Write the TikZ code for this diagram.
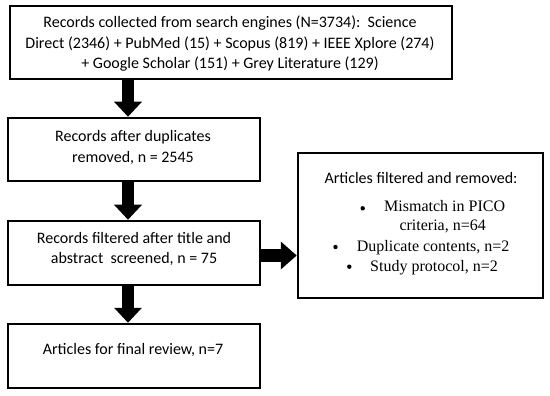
\documentclass[tikz,border=0pt]{standalone}
\usepackage{fontspec}
\setmainfont{Carlito}
\newfontfamily\serifb{Liberation Serif}
\usetikzlibrary{arrows.meta}
\begin{document}
\begin{tikzpicture}[x=1pt,y=-1pt,
  box/.style={draw=black,line width=2.5pt,rectangle,inner sep=0pt},
  txt/.style={font=\fontsize{16}{20.5}\selectfont,align=center,inner sep=0pt},
  btxt/.style={font=\serifb\fontsize{16}{20}\selectfont,inner sep=0pt,anchor=base west},
  dot/.style={circle,fill=black,inner sep=0pt,minimum size=4.4pt},
  bigarrow/.style={line width=12pt,-{Triangle[length=15pt,width=27pt]}},
  sidearrow/.style={line width=13pt,-{Triangle[length=16pt,width=27pt]}}]
\useasboundingbox (0,0) rectangle (550,396);
% boxes
\node[box,minimum width=442pt,minimum height=73pt] (top) at (231,42.5) {};
\node[box,minimum width=252pt,minimum height=63pt] (b2) at (134,149.5) {};
\node[box,minimum width=252pt,minimum height=64pt] (b3) at (134,253) {};
\node[box,minimum width=252pt,minimum height=64pt] (b4) at (134,356) {};
\node[box,minimum width=245pt,minimum height=145pt] (rb) at (420.5,225.5) {};
% texts
\node[txt] (ttop) at (230,44) {Records collected from search engines (N=3734):\ \ Science\\Direct (2346) + PubMed (15) + Scopus (819) + IEEE Xplore (274)\\+ Google Scholar (151) + Grey Literature (129)};
\node[txt] (tb2) at (133,147.5) {Records after duplicates\\removed, n = 2545};
\node[txt] (tb3) at (134,249) {Records filtered after title and\\abstract\ \ screened, n = 75};
\node[txt] (tb4) at (133,350) {Articles for final review, n=7};
\node[txt] (trb) at (421,178) {Articles filtered and removed:};
\node[dot] (bul1) at (362.7,208.3) {};
\node[btxt] (l1) at (384,211.5) {Mismatch in PICO};
\node[btxt] (l1b) at (399.3,230) {criteria, n=64};
\node[dot] (bul2) at (335.5,247) {};
\node[btxt] (l2) at (356.7,251.5) {Duplicate contents, n=2};
\node[dot] (bul3) at (349.3,266.7) {};
\node[btxt] (l3) at (370,271) {Study protocol, n=2};
% arrows
\coordinate (ax) at (128,0);
\coordinate (ay) at (0,255.5);
\draw[bigarrow] (top.south -| ax) -- (b2.north -| ax);
\draw[bigarrow] (b2.south -| ax) -- (b3.north -| ax);
\draw[bigarrow] (b3.south -| ax) -- (b4.north -| ax);
\draw[sidearrow] (b3.east |- ay) -- (rb.west |- ay);
\end{tikzpicture}
\end{document}
